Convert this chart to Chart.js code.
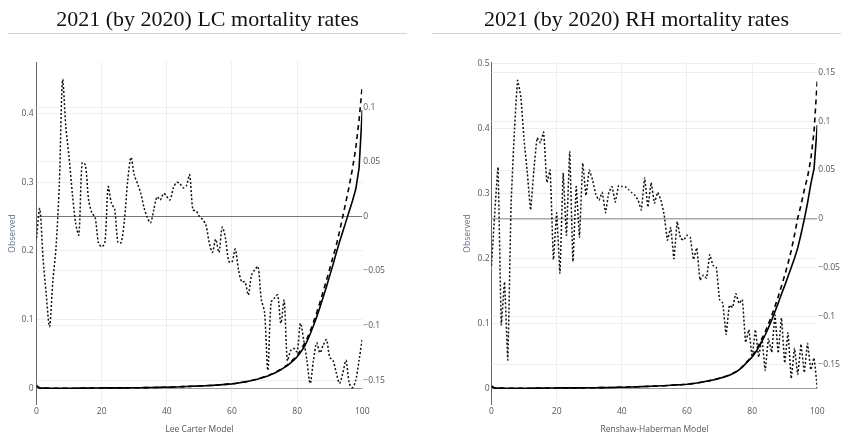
<!DOCTYPE html>
<html>
<head>
<meta charset="utf-8">
<script src="https://cdn.jsdelivr.net/npm/chart.js@4.4.0/dist/chart.umd.min.js"></script>
<style>
    body { margin: 0; background: #fff; width: 849px; height: 437px; position: relative; overflow: hidden; }
    .panel { position: absolute; top: 0; height: 437px; }
    .panel canvas { position: absolute; left: 0; top: 0; }
    .title {
        position: absolute; top: 8px; left: 8px; right: 8px; height: 25px;
        border-bottom: 1px solid #d4d4d4; text-align: center;
        font-family: 'Liberation Serif', 'Times New Roman', serif; font-size: 22px; line-height: 22px; color: #111;
    }
</style>
</head>
<body>
<div class="panel" style="left:0;width:415px">
    <canvas id="lcChart" width="415" height="437"></canvas>
    <div class="title">2021 (by 2020) LC mortality rates</div>
</div>
<div class="panel" style="left:424px;width:425px">
    <canvas id="rhChart" width="425" height="437"></canvas>
    <div class="title">2021 (by 2020) RH mortality rates</div>
</div>
<script>
// ages 0..100
const ages = Array.from({ length: 101 }, (_, i) => i);
const xTicks = [0, 20, 40, 60, 80, 100];

// Lee Carter: solid curve (left axis)
const lcSolid = [
    0.0035, 0.0003, 0.0002, 0.0002, 0.0001, 0.0001, 0.0001, 0.0001, 0.0001, 0.0001,
    0.0001, 0.0001, 0.0001, 0.0002, 0.0002, 0.0003, 0.0003, 0.0004, 0.0005, 0.0005,
    0.0005, 0.0006, 0.0006, 0.0006, 0.0006, 0.0006, 0.0007, 0.0007, 0.0007, 0.0008,
    0.0008, 0.0009, 0.0009, 0.0010, 0.0010, 0.0011, 0.0012, 0.0013, 0.0014, 0.0015,
    0.0016, 0.0017, 0.0019, 0.0020, 0.0022, 0.0024, 0.0026, 0.0028, 0.0030, 0.0032,
    0.0034, 0.0036, 0.0038, 0.0040, 0.0043, 0.0046, 0.0049, 0.0053, 0.0057, 0.0061,
    0.0065, 0.0071, 0.0078, 0.0086, 0.0094, 0.0103, 0.0113, 0.0124, 0.0136, 0.0150,
    0.0165, 0.0180, 0.0200, 0.0220, 0.0245, 0.0270, 0.0300, 0.0330, 0.0370, 0.0410,
    0.046, 0.052, 0.059, 0.068, 0.079, 0.091, 0.104, 0.118, 0.133, 0.148,
    0.164, 0.180, 0.197, 0.213, 0.228, 0.243, 0.258, 0.273, 0.290, 0.320,
    0.405
];
// Lee Carter: dashed curve (left axis)
const lcDashed = [
    0.0040, 0.0003, 0.0002, 0.0002, 0.0001, 0.0001, 0.0001, 0.0001, 0.0001, 0.0001,
    0.0001, 0.0001, 0.0001, 0.0002, 0.0002, 0.0003, 0.0003, 0.0004, 0.0005, 0.0005,
    0.0005, 0.0006, 0.0006, 0.0006, 0.0006, 0.0006, 0.0007, 0.0007, 0.0007, 0.0008,
    0.0008, 0.0009, 0.0009, 0.0010, 0.0010, 0.0011, 0.0012, 0.0013, 0.0014, 0.0015,
    0.0016, 0.0017, 0.0019, 0.0020, 0.0022, 0.0024, 0.0026, 0.0028, 0.0030, 0.0032,
    0.0034, 0.0036, 0.0038, 0.0040, 0.0043, 0.0046, 0.0049, 0.0053, 0.0057, 0.0061,
    0.0065, 0.0071, 0.0078, 0.0086, 0.0094, 0.0103, 0.0113, 0.0124, 0.0137, 0.0152,
    0.0168, 0.0184, 0.0204, 0.0226, 0.0251, 0.0278, 0.0308, 0.0342, 0.0380, 0.0428,
    0.048, 0.055, 0.063, 0.072, 0.083, 0.096, 0.110, 0.125, 0.141, 0.157,
    0.174, 0.191, 0.208, 0.228, 0.250, 0.272, 0.295, 0.320, 0.350, 0.390,
    0.441
];
// Lee Carter: dotted series (right axis)
const lcDotted = [
    -0.020, 0.007, -0.038, -0.072, -0.101, -0.060, -0.028, 0.029, 0.125, 0.082,
    0.054, 0.021, -0.006, -0.017, 0.049, 0.047, 0.015, 0.003, -0.001, -0.024,
    -0.028, -0.024, 0.027, 0.012, 0.006, -0.024, -0.024, -0.003, 0.033, 0.054,
    0.038, 0.030, 0.021, 0.008, -0.001, -0.006, 0.006, 0.018, 0.015, 0.021,
    0.018, 0.015, 0.026, 0.031, 0.030, 0.026, 0.028, 0.038, 0.006, 0.005,
    0.000, -0.003, -0.008, -0.024, -0.033, -0.021, -0.033, -0.010, -0.020, -0.041,
    -0.042, -0.030, -0.049, -0.060, -0.060, -0.072, -0.054, -0.049, -0.046, -0.076,
    -0.088, -0.141, -0.079, -0.075, -0.072, -0.098, -0.077, -0.132, -0.123, -0.121,
    -0.124, -0.098, -0.113, -0.132, -0.153, -0.132, -0.116, -0.125, -0.118, -0.113,
    -0.129, -0.132, -0.143, -0.153, -0.144, -0.132, -0.153, -0.157, -0.150, -0.132,
    -0.112
];

// Renshaw-Haberman: solid curve (left axis)
const rhSolid = [
    0.0030, 0.0003, 0.0002, 0.0002, 0.0001, 0.0001, 0.0001, 0.0001, 0.0001, 0.0001,
    0.0001, 0.0001, 0.0001, 0.0002, 0.0002, 0.0003, 0.0003, 0.0004, 0.0005, 0.0005,
    0.0005, 0.0006, 0.0006, 0.0006, 0.0006, 0.0006, 0.0007, 0.0007, 0.0007, 0.0008,
    0.0008, 0.0009, 0.0009, 0.0010, 0.0010, 0.0011, 0.0012, 0.0013, 0.0014, 0.0015,
    0.0016, 0.0017, 0.0019, 0.0020, 0.0022, 0.0024, 0.0026, 0.0028, 0.0030, 0.0032,
    0.0034, 0.0036, 0.0038, 0.0040, 0.0043, 0.0046, 0.0049, 0.0052, 0.0055, 0.0058,
    0.0062, 0.0068, 0.0075, 0.0082, 0.0090, 0.0099, 0.0108, 0.0118, 0.0129, 0.0141,
    0.0154, 0.0168, 0.0184, 0.0202, 0.0225, 0.0250, 0.0285, 0.0325, 0.0380, 0.0430,
    0.048, 0.055, 0.063, 0.072, 0.082, 0.093, 0.105, 0.118, 0.131, 0.145,
    0.158, 0.172, 0.186, 0.200, 0.216, 0.237, 0.260, 0.285, 0.314, 0.338,
    0.405
];
// Renshaw-Haberman: dashed curve (left axis)
const rhDashed = [
    0.0035, 0.0003, 0.0002, 0.0002, 0.0001, 0.0001, 0.0001, 0.0001, 0.0001, 0.0001,
    0.0001, 0.0001, 0.0001, 0.0002, 0.0002, 0.0003, 0.0003, 0.0004, 0.0005, 0.0005,
    0.0005, 0.0006, 0.0006, 0.0006, 0.0006, 0.0006, 0.0007, 0.0007, 0.0007, 0.0008,
    0.0008, 0.0009, 0.0009, 0.0010, 0.0010, 0.0011, 0.0012, 0.0013, 0.0014, 0.0015,
    0.0016, 0.0017, 0.0019, 0.0020, 0.0022, 0.0024, 0.0026, 0.0028, 0.0030, 0.0032,
    0.0034, 0.0036, 0.0038, 0.0040, 0.0043, 0.0046, 0.0049, 0.0052, 0.0055, 0.0058,
    0.0062, 0.0068, 0.0075, 0.0082, 0.0090, 0.0099, 0.0108, 0.0118, 0.0129, 0.0141,
    0.0155, 0.0170, 0.0186, 0.0205, 0.0228, 0.0254, 0.0290, 0.0332, 0.039, 0.044,
    0.050, 0.057, 0.066, 0.076, 0.087, 0.099, 0.112, 0.126, 0.141, 0.157,
    0.174, 0.192, 0.212, 0.236, 0.262, 0.282, 0.305, 0.325, 0.352, 0.395,
    0.474
];
// Renshaw-Haberman: dotted series (right axis)
const rhDotted = [
    -0.048, 0.006, 0.053, -0.109, -0.065, -0.145, 0.014, 0.088, 0.142, 0.125,
    0.081, 0.047, 0.009, 0.050, 0.083, 0.078, 0.089, 0.037, 0.050, -0.042,
    0.006, -0.056, 0.047, -0.017, 0.069, -0.044, 0.033, -0.019, 0.057, 0.024,
    0.050, 0.040, 0.025, 0.019, 0.027, 0.006, 0.027, 0.033, 0.017, 0.034,
    0.033, 0.033, 0.030, 0.027, 0.024, 0.019, 0.009, 0.042, 0.012, 0.037,
    0.016, 0.027, 0.019, 0.004, -0.022, -0.009, -0.041, -0.003, -0.020, -0.022,
    -0.017, -0.019, -0.042, -0.030, -0.063, -0.058, -0.061, -0.037, -0.048, -0.050,
    -0.083, -0.087, -0.119, -0.089, -0.091, -0.077, -0.087, -0.083, -0.127, -0.114,
    -0.142, -0.114, -0.142, -0.123, -0.156, -0.123, -0.137, -0.099, -0.138, -0.102,
    -0.148, -0.117, -0.164, -0.133, -0.160, -0.129, -0.158, -0.128, -0.155, -0.143,
    -0.174
];

const lcLeftTicks = [0, 0.1, 0.2, 0.3, 0.4];
const lcRightTicks = [-0.15, -0.1, -0.05, 0, 0.05, 0.1];
const rhLeftTicks = [0, 0.1, 0.2, 0.3, 0.4, 0.5];
const rhRightTicks = [-0.15, -0.1, -0.05, 0, 0.05, 0.1, 0.15];

const tickFont = { family: "'Open Sans', sans-serif", size: 8.5 };
const tickColor = '#555';

function points(values) {
    return ages.map((a, i) => ({ x: a, y: values[i] }));
}

function fmt(v) {
    return String(+v.toFixed(2)).replace('-', '\u2212');
}

function fixedTicks(list) {
    return function(scale) {
        scale.ticks = list.map(v => ({ value: v }));
    };
}

function drawChart(id, c) {
    return new Chart(document.getElementById(id), {
        type: 'line',
        data: {
            datasets: [
                { data: points(c.solid), yAxisID: 'y', borderColor: '#000', borderWidth: 1.6 },
                { data: points(c.dashed), yAxisID: 'y', borderColor: '#000', borderWidth: 1.6, borderDash: [5, 4] },
                { data: points(c.dotted), yAxisID: 'y1', borderColor: '#111', borderWidth: 1.5, borderDash: [2, 2], tension: c.tension }
            ]
        },
        options: {
            responsive: false,
            animation: false,
            layout: { padding: { top: 62, left: 0, right: 0, bottom: 0 } },
            plugins: { legend: { display: false }, tooltip: { enabled: false } },
            elements: { point: { radius: 0 } },
            scales: {
                x: {
                    type: 'linear', min: 0, max: 100,
                    afterBuildTicks: fixedTicks(xTicks),
                    afterFit: s => { s.height = 32; },
                    border: { display: false },
                    grid: { drawTicks: false, color: ctx => ctx.tick.value === 0 ? '#666' : (ctx.tick.value === 100 ? 'rgba(0,0,0,0)' : '#eee') },
                    ticks: { font: tickFont, color: tickColor, padding: 1, maxRotation: 0 },
                    title: { display: true, text: c.xTitle, font: tickFont, color: '#555', padding: { top: 0, bottom: 2 } }
                },
                y: {
                    position: 'left', min: c.leftMin, max: c.leftMax,
                    afterBuildTicks: fixedTicks(c.leftTicks),
                    afterFit: s => { s.width = c.leftWidth; },
                    border: { display: false },
                    grid: { drawTicks: false, color: ctx => ctx.tick.value === 0 ? '#999' : '#eee' },
                    ticks: { font: tickFont, color: tickColor, padding: c.leftPad, callback: v => fmt(v) },
                    title: { display: true, text: 'Observed', font: tickFont, color: '#5f6f80', padding: { top: c.titlePad, bottom: 0 } }
                },
                y1: {
                    position: 'right', min: c.rightMin, max: c.rightMax,
                    afterBuildTicks: fixedTicks(c.rightTicks),
                    afterFit: s => { s.width = c.rightWidth; },
                    border: { display: false },
                    grid: { drawTicks: false, color: ctx => ctx.tick.value === 0 ? c.zeroColor : '#eee', lineWidth: ctx => ctx.tick.value === 0 ? c.zeroWidth : 1 },
                    ticks: { font: tickFont, color: tickColor, padding: 1, callback: v => fmt(v) }
                }
            }
        }
    });
}

drawChart('lcChart', {
    solid: lcSolid, dashed: lcDashed, dotted: lcDotted, tension: 0.3,
    xTitle: 'Lee Carter Model',
    leftTicks: lcLeftTicks, leftMin: -0.0243, leftMax: 0.475,
    rightTicks: lcRightTicks, rightMin: -0.1728, rightMax: 0.1413,
    leftWidth: 36.5, rightWidth: 52.7, leftPad: 3, titlePad: 7.5,
    zeroColor: '#777', zeroWidth: 1
});

drawChart('rhChart', {
    solid: rhSolid, dashed: rhDashed, dotted: rhDotted, tension: 0.1,
    xTitle: 'Renshaw-Haberman Model',
    leftTicks: rhLeftTicks, leftMin: -0.0257, leftMax: 0.502,
    rightTicks: rhRightTicks, rightMin: -0.1913, rightMax: 0.1609,
    leftWidth: 67.5, rightWidth: 31.7, leftPad: 2, titlePad: 38,
    zeroColor: '#aaa', zeroWidth: 1.5
});
</script>
</body>
</html>
